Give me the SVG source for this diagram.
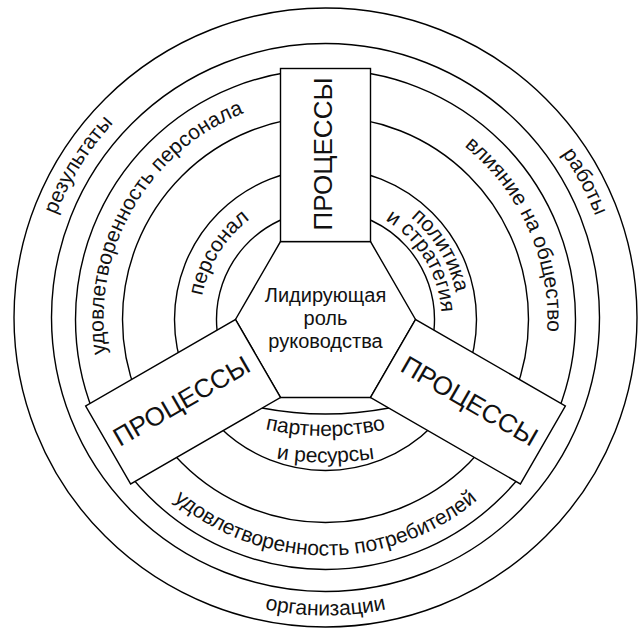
<svg xmlns="http://www.w3.org/2000/svg" width="638" height="629" viewBox="0 0 638 629">
<style>
.ring{fill:none;stroke:#000;stroke-width:1.4}
.box{fill:#fff;stroke:#000;stroke-width:1.4}
.lbl{font-family:"Liberation Sans",Arial,sans-serif;font-size:21px;fill:#111;text-anchor:middle}
.ctr{font-family:"Liberation Sans",Arial,sans-serif;font-size:20px;fill:#111;text-anchor:middle}
.proc{font-family:"Liberation Sans",Arial,sans-serif;font-size:26px;fill:#111;text-anchor:middle}
</style>
<defs>
<path id="t289" d="M -289,0 A 289,289 0 0 1 289,0"/>
<path id="t222" d="M -222,0 A 222,222 0 0 1 222,0"/>
<path id="t133" d="M -133,0 A 133,133 0 0 1 133,0"/>
<path id="t125" d="M -125.5,0 A 125.5,125.5 0 0 1 125.5,0"/>
<path id="t116" d="M -116,0 A 116,116 0 0 1 116,0"/>
<path id="b296" d="M -296,0 A 296,296 0 0 0 296,0"/>
<path id="b236" d="M -236,0 A 236,236 0 0 0 236,0"/>
<path id="pA" d="M 45.5,156 A 280,280 0 0 0 605.5,156"/>
<path id="pB" d="M 19,156 A 306.5,306.5 0 0 0 632,156"/>
<rect id="procRect" x="280.5" y="68.5" width="90" height="173.06"/>
</defs>

<g id="rings">
<ellipse class="ring" cx="325.5" cy="317.5" rx="311.5" ry="309.5"/>
<circle class="ring" cx="325.5" cy="317.5" r="274"/>
<circle class="ring" cx="325.5" cy="319.5" r="250"/>
<circle class="ring" cx="325.5" cy="319.5" r="203"/>
<circle class="ring" cx="325.5" cy="319.5" r="151"/>
<path class="ring" d="M 389,408 A 109,109 0 1 0 262,408"/>
<path class="ring" d="M 262,408 A 339,339 0 0 0 389,408"/>
</g>

<g id="ring-labels">
<text class="lbl" transform="translate(325.5,319.5) rotate(-58)"><textPath href="#t289" startOffset="50%">результаты</textPath></text>
<text class="lbl" transform="translate(325.5,319.5) rotate(62)"><textPath href="#t289" startOffset="50%">работы</textPath></text>
<text class="lbl" transform="translate(325.5,319.5)"><textPath href="#b296" startOffset="50%">организации</textPath></text>
<text class="lbl" transform="translate(325.5,319.5) rotate(-60.2)"><textPath href="#t222" startOffset="50%">удовлетворенность персонала</textPath></text>
<text class="lbl" transform="translate(325.5,319.5) rotate(65.9)"><textPath href="#t222" startOffset="50%">влияние на общество</textPath></text>
<text class="lbl" transform="translate(325.5,319.5)"><textPath href="#b236" startOffset="50%">удовлетворенность потребителей</textPath></text>
<text class="lbl" transform="translate(325.5,319.5) rotate(-58.1)"><textPath href="#t125" startOffset="50%">персонал</textPath></text>
<text class="lbl" transform="translate(325.5,319.5) rotate(59.1)"><textPath href="#t133" startOffset="50%">политика</textPath></text>
<text class="lbl" transform="translate(325.5,319.5) rotate(58.8)"><textPath href="#t116" startOffset="50%">и стратегия</textPath></text>
<text class="lbl"><textPath href="#pA" startOffset="50%">партнерство</textPath></text>
<text class="lbl"><textPath href="#pB" startOffset="50%">и ресурсы</textPath></text>
</g>

<g id="leadership">
<polygon class="box" points="280.5,241.56 370.5,241.56 415.5,319.5 370.5,397.44 280.5,397.44 235.5,319.5"/>
<text class="ctr" x="325.5" y="301.7">Лидирующая</text>
<text class="ctr" x="325.5" y="324.5">роль</text>
<text class="ctr" x="325.5" y="347.7">руководства</text>
</g>

<g id="processes-top">
<use href="#procRect" class="box"/>
<text class="proc" transform="translate(325.5,154) rotate(-90)" x="0" y="6.2">ПРОЦЕССЫ</text>
</g>
<g id="processes-right" transform="rotate(120,325.5,319.5)">
<use href="#procRect" class="box"/>
<text class="proc" transform="translate(325.5,154) rotate(-90)" x="0" y="7.5">ПРОЦЕССЫ</text>
</g>
<g id="processes-left" transform="rotate(240,325.5,319.5)">
<use href="#procRect" class="box"/>
<text class="proc" transform="translate(325.5,154) rotate(90)" x="0" y="7.5">ПРОЦЕССЫ</text>
</g>
</svg>
